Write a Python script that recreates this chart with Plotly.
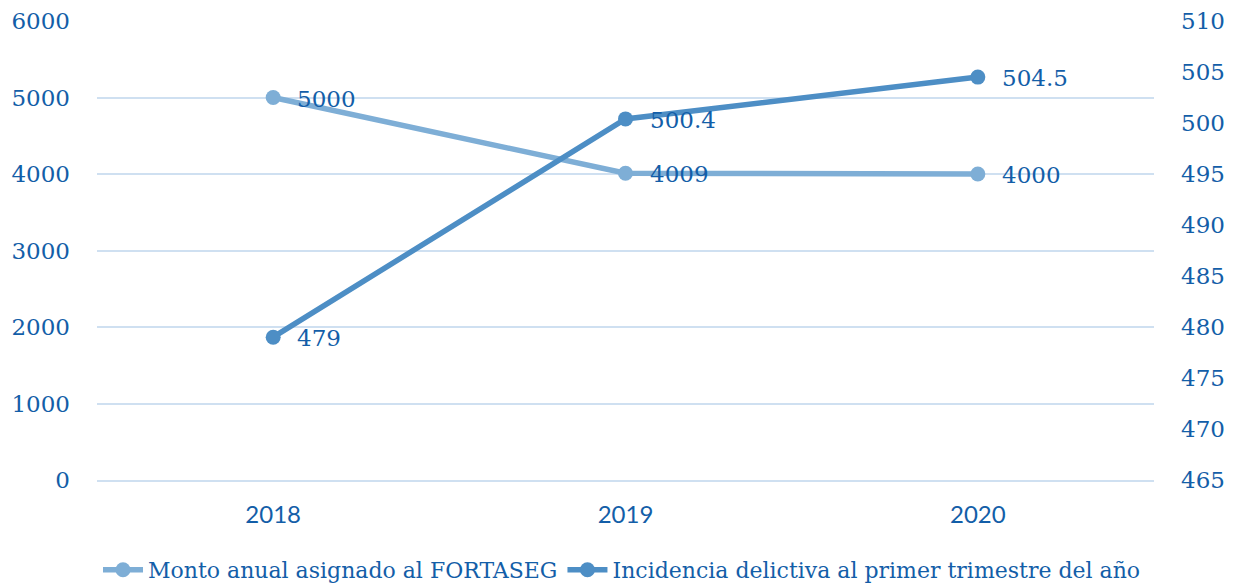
import plotly.graph_objects as go

years = ["2018", "2019", "2020"]
monto = [5000, 4009, 4000]
incidencia = [479, 500.4, 504.5]
monto_labels = ["5000", "4009", "4000"]
incid_labels = ["479", "500.4", "504.5"]
left_ticks = [0, 1000, 2000, 3000, 4000, 5000, 6000]
right_ticks = [465, 470, 475, 480, 485, 490, 495, 500, 505, 510]

TXT = "#135ea8"
C1 = "#7eaed6"
C2 = "#4d8ec5"
GRID = "#cfe0f1"
SERIF = "DejaVu Serif"

fig = go.Figure()
fig.add_trace(go.Scatter(
    x=years, y=monto, name="Monto anual asignado al FORTASEG",
    mode="lines+markers",
    line=dict(color=C1, width=5.5), marker=dict(size=15, color=C1),
    yaxis="y", cliponaxis=False,
))
fig.add_trace(go.Scatter(
    x=years, y=incidencia, name="Incidencia delictiva al primer trimestre del año",
    mode="lines+markers",
    line=dict(color=C2, width=5.5), marker=dict(size=15, color=C2),
    yaxis="y2", cliponaxis=False,
))

annotations = []
for i, (yv, lab) in enumerate(zip(monto, monto_labels)):
    annotations.append(dict(x=i, y=yv, xref="x", yref="y", text=lab,
                            showarrow=False, xanchor="left", yanchor="middle",
                            xshift=22, yshift=-1,
                            font=dict(family=SERIF, size=23, color=TXT)))
for i, (yv, lab) in enumerate(zip(incidencia, incid_labels)):
    annotations.append(dict(x=i, y=yv, xref="x", yref="y2", text=lab,
                            showarrow=False, xanchor="left", yanchor="middle",
                            xshift=22, yshift=-1,
                            font=dict(family=SERIF, size=23, color=TXT)))

fig.update_layout(
    width=1228, height=577,
    margin=dict(l=89, r=82, t=13, b=105, autoexpand=False),
    paper_bgcolor="white", plot_bgcolor="white",
    font=dict(family=SERIF, size=23, color=TXT),
    annotations=annotations,
    xaxis=dict(
        type="category", range=[-0.5, 2.5], showgrid=False, zeroline=False,
        showline=True, linecolor=GRID, linewidth=2, automargin=False,
        tickfont=dict(family="Lato", size=24, color=TXT),
        ticks="", ticklabelstandoff=12,
    ),
    yaxis=dict(
        range=[0, 6000], tickvals=left_ticks, showgrid=True, gridcolor=GRID,
        gridwidth=2, zeroline=False, showline=False, automargin=False,
        tickfont=dict(family=SERIF, size=23, color=TXT), ticklabelstandoff=26,
    ),
    yaxis2=dict(
        range=[465, 510], tickvals=right_ticks, overlaying="y", side="right",
        showgrid=False, zeroline=False, showline=False, automargin=False,
        tickfont=dict(family=SERIF, size=23, color=TXT), ticklabelstandoff=26,
    ),
    legend=dict(
        orientation="h", xref="container", yref="container",
        x=0.5, xanchor="center", y=0.026, yanchor="middle",
        font=dict(family=SERIF, size=22, color=TXT),
        itemwidth=40, tracegroupgap=0,
    ),
    showlegend=True,
)

fig.write_html("out.html")
